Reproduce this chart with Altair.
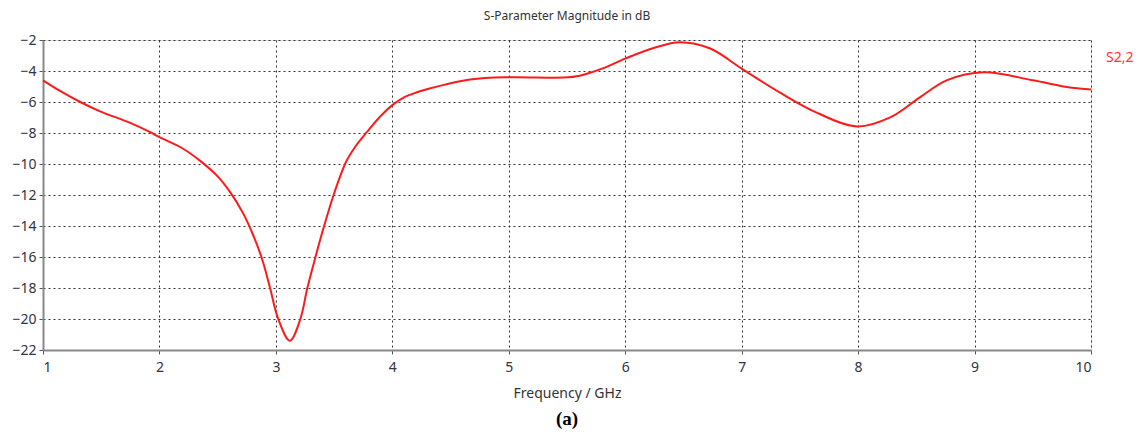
import altair as alt
import pandas as pd

freq = [1.0, 1.15, 1.32, 1.49, 1.75, 1.92, 2.0, 2.2, 2.35, 2.5, 2.61, 2.72, 2.8, 2.88, 2.95, 3.02, 3.12, 3.21, 3.27, 3.34, 3.41, 3.5, 3.6, 3.68, 3.78, 3.9, 4.0, 4.1, 4.2, 4.32, 4.67, 5.01, 5.47, 5.61, 5.8, 6.0, 6.25, 6.47, 6.73, 7.01, 7.33, 7.62, 7.99, 8.28, 8.53, 8.76, 9.08, 9.5, 9.82, 10.0]
s22 = [-4.6, -5.3, -6.0, -6.6, -7.35, -7.95, -8.27, -9.0, -9.8, -10.8, -11.85, -13.2, -14.5, -16.1, -18.0, -20.0, -21.4, -20.0, -18.0, -16.0, -14.1, -11.9, -9.9, -8.9, -7.95, -6.9, -6.2, -5.7, -5.4, -5.13, -4.55, -4.4, -4.42, -4.3, -3.85, -3.2, -2.5, -2.14, -2.55, -3.9, -5.4, -6.6, -7.58, -6.98, -5.7, -4.6, -4.08, -4.6, -5.07, -5.2]

x_ticks = [1, 2, 3, 4, 5, 6, 7, 8, 9, 10]
y_ticks = [-2, -4, -6, -8, -10, -12, -14, -16, -18, -20, -22]

df = pd.DataFrame({"f": freq, "s": s22})

FONT = "Noto Sans"

line = alt.Chart(df).mark_line(color="#ff1a1a", strokeWidth=2, interpolate="catmull-rom").encode(
    x=alt.X("f:Q", scale=alt.Scale(domain=[1, 10], nice=False),
            axis=alt.Axis(values=x_ticks, title="Frequency / GHz", titleFontWeight="normal",
                          titleFontSize=14, titleColor="#333333", titlePadding=12, titleFont=FONT,
                          labelFont=FONT, labelFontSize=14, labelColor="#333344", labelPadding=6,
                          tickColor="#555555", tickSize=4, domainColor="#888888", domainWidth=2,
                          gridColor="#333333", gridDash=[2, 3], gridWidth=1, format="d")),
    y=alt.Y("s:Q", scale=alt.Scale(domain=[-22, -2], nice=False),
            axis=alt.Axis(values=y_ticks, title=None,
                          labelFont=FONT, labelFontSize=14, labelColor="#333344", labelPadding=3,
                          tickColor="#555555", tickSize=4, domainColor="#888888", domainWidth=2,
                          gridColor="#333333", gridDash=[2, 3], gridWidth=1)),
)

legend_text = alt.Chart(pd.DataFrame({"t": ["S2,2"]})).mark_text(
    color="#ff3333", font=FONT, fontSize=14, align="left", baseline="middle"
).encode(x=alt.value(1063), y=alt.value(18), text="t:N")

caption = alt.Chart(pd.DataFrame({"t": ["(a)"]})).mark_text(
    font="Liberation Serif", fontSize=19, fontWeight="bold", align="center", baseline="middle", color="#000000"
).encode(x=alt.value(524), y=alt.value(379), text="t:N")

chart = alt.layer(line, legend_text, caption).properties(
    width=1048, height=310,
    title=alt.TitleParams("S-Parameter Magnitude in dB", font=FONT, fontSize=12, fontWeight="normal",
                          color="#333333", offset=10),
    autosize=alt.AutoSizeParams(type="none"),
    padding={"left": 35, "top": 32, "right": 42, "bottom": 80},
).configure_view(stroke="#888888", strokeWidth=2).configure(background="white")

chart.save("out.html", embed_options={"renderer": "svg", "actions": False})
